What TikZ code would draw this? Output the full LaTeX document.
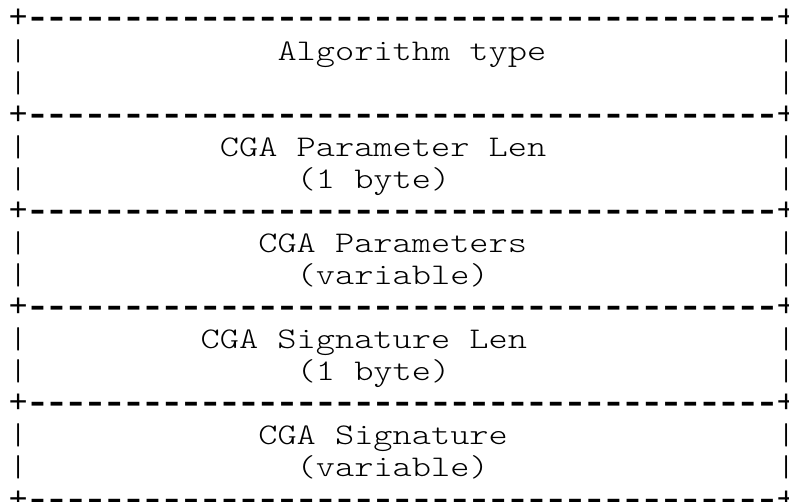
\documentclass[tikz,border=0pt]{standalone}
\usepackage{fontspec}
\usepackage{graphicx}
\newfontfamily\asciifont[FakeStretch=1.2190476]{lmmonolt10-regular.otf}
\newfontfamily\borderfont{Liberation Mono}
\newcommand\asciisize{\asciifont\fontsize{30pt}{32pt}\selectfont}
\newcommand\bordersize{\borderfont\fontsize{32pt}{32pt}\selectfont}
\newlength\cw
\newcommand\gap[1]{\hspace*{#1\cw}}
\newcommand\dsh{\makebox[\cw]{\scalebox{1.3}[1]{\bfseries -}}}
\newcommand\dfive{\dsh\dsh\dsh\dsh\dsh}
\newcommand\border{+\dfive\dfive\dfive\dfive\dfive\dfive\dfive\dsh\dsh\dsh\dsh+}
\tikzset{
  asciirow/.style={anchor=base west, inner sep=0pt, outer sep=0pt, font=\asciisize, text=black},
  borderrow/.style={anchor=base west, inner sep=0pt, outer sep=0pt, font=\bordersize, text=black}
}
\begin{document}
\settowidth{\cw}{\asciisize M}
\begin{tikzpicture}[x=1pt,y=1pt]
\useasboundingbox (0,0) rectangle (789,502);
\node[borderrow] (l0)  at (8.7,474.00) {\border};
\node[asciirow]  (l1)  at (8.7,441.93) {|\gap{13}Algorithm type\gap{12}|};
\node[asciirow]  (l2)  at (8.7,409.86) {|\gap{39}|};
\node[borderrow] (l3)  at (8.7,377.79) {\border};
\node[asciirow]  (l4)  at (8.7,345.72) {|\gap{10}CGA Parameter Len\gap{12}|};
\node[asciirow]  (l5)  at (8.7,313.65) {|\gap{14}(1 byte)\gap{17}|};
\node[borderrow] (l6)  at (8.7,281.58) {\border};
\node[asciirow]  (l7)  at (8.7,249.51) {|\gap{12}CGA Parameters\gap{13}|};
\node[asciirow]  (l8)  at (8.7,217.44) {|\gap{14}(variable)\gap{15}|};
\node[borderrow] (l9)  at (8.7,185.37) {\border};
\node[asciirow]  (l10) at (8.7,153.30) {|\gap{9}CGA Signature Len\gap{13}|};
\node[asciirow]  (l11) at (8.7,121.23) {|\gap{14}(1 byte)\gap{17}|};
\node[borderrow] (l12) at (8.7,89.16)  {\border};
\node[asciirow]  (l13) at (8.7,57.09)  {|\gap{12}CGA Signature\gap{14}|};
\node[asciirow]  (l14) at (8.7,25.02)  {|\gap{14}(variable)\gap{15}|};
\node[borderrow] (l15) at (8.7,-7.05)  {\border};
\end{tikzpicture}
\end{document}
